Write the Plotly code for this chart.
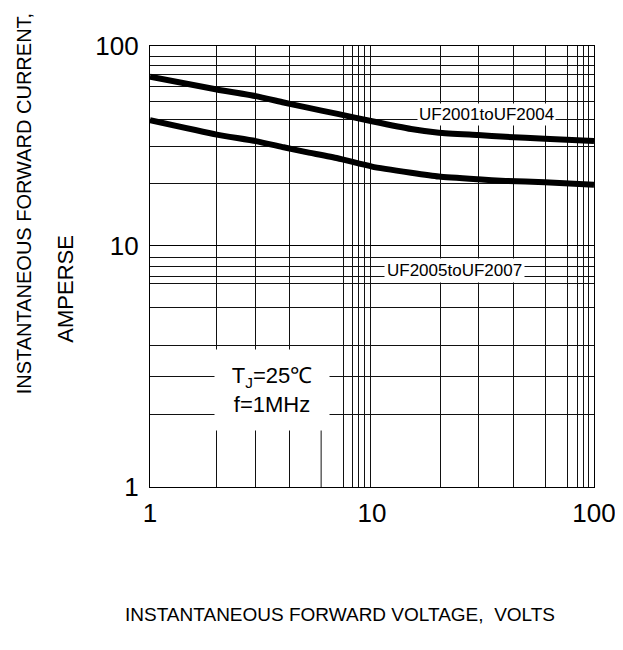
import plotly.graph_objects as go

# ---- data ----
VOLTAGE = [1, 2, 3, 4, 5, 7, 10, 15, 20, 30, 40, 60, 100]
CURRENT_UF2001_2004 = [70.2, 60.6, 56.1, 52.1, 49.4, 45.7, 42.0, 38.4, 36.8, 35.8, 35.1, 34.3, 33.4]
CURRENT_UF2005_2007 = [42.5, 36.0, 33.4, 31.1, 29.5, 27.4, 24.9, 23.2, 22.2, 21.5, 21.1, 20.8, 20.2]

X_TICKS = [1, 10, 100]
X_TICK_LABELS = ["1", "10", "100"]
Y_TICKS_UPPER = [100]
Y_TICKS_LOWER = [1, 10]

# hand-drawn grid of the original datasheet chart
X_GRID = [2.0, 3.0, 4.24, 7.44, 8.14, 8.73, 9.27, 9.8,
          20.3, 30.3, 43.2, 60.3, 76.0, 84.1, 89.7, 94.9]
Y_GRID_UPPER = [20.4, 31.5, 42.8, 52.6, 63.0, 72.1, 80.3, 89.1]
Y_GRID_LOWER = [1.99, 2.88, 3.85, 5.57, 6.94, 7.47, 8.18, 8.95]

FONT = "Arial, Liberation Sans, sans-serif"
SPLIT = 0.5472
FRAME_W = 1.2

fig = go.Figure()

for ys in (CURRENT_UF2001_2004, CURRENT_UF2005_2007):
    fig.add_trace(go.Scatter(
        x=VOLTAGE, y=ys, mode="lines", xaxis="x", yaxis="y",
        line=dict(color="black", width=6, shape="spline", smoothing=0.5),
        cliponaxis=False, showlegend=False, hoverinfo="skip"))

# empty trace so the lower decade panel exists
fig.add_trace(go.Scatter(x=[], y=[], xaxis="x2", yaxis="y2",
                         showlegend=False, hoverinfo="skip"))

grid_minor = dict(showgrid=True, gridcolor="#111", gridwidth=1, ticks="")

xcommon = dict(type="log", range=[0, 2], showline=True,
               linecolor="black", linewidth=FRAME_W, showgrid=False, zeroline=False,
               ticks="", tickvals=X_TICKS, ticktext=X_TICK_LABELS,
               minor=dict(tickvals=X_GRID, **grid_minor))

ycommon = dict(type="log", showline=True, mirror=True, linecolor="black",
               linewidth=FRAME_W, showgrid=False, zeroline=False, ticks="",
               tickfont=dict(size=26, family=FONT, color="black"),
               ticklabelstandoff=5)

fig.update_layout(
    width=623, height=650,
    margin=dict(l=142, r=37, t=38, b=171),
    paper_bgcolor="white", plot_bgcolor="white",
    font=dict(family=FONT, color="black"),
    xaxis=dict(anchor="y", side="top", mirror=False, showticklabels=False, **xcommon),
    xaxis2=dict(anchor="y2", matches="x", mirror=True, showticklabels=True,
                tickfont=dict(size=26, family=FONT, color="black"),
                ticklabelstandoff=3, **xcommon),
    yaxis=dict(range=[1, 2], domain=[SPLIT, 1], anchor="x",
               tickvals=Y_TICKS_UPPER, ticktext=[str(v) for v in Y_TICKS_UPPER],
               minor=dict(tickvals=Y_GRID_UPPER, **grid_minor), **ycommon),
    yaxis2=dict(range=[0, 1], domain=[0, SPLIT], anchor="x2",
                tickvals=Y_TICKS_LOWER, ticktext=[str(v) for v in Y_TICKS_LOWER],
                minor=dict(tickvals=Y_GRID_LOWER, **grid_minor), **ycommon),
)

# partial grid line at the bottom of the lower decade
fig.add_shape(type="line", xref="x2", yref="y2", x0=5.9, x1=5.9, y0=1, y1=1.77,
              line=dict(color="#111", width=1))

fig.add_annotation(x=1.516, y=1.6555, xref="x", yref="y",
                   text="UF2001toUF2004", showarrow=False,
                   xanchor="center", yanchor="middle",
                   font=dict(size=17, family=FONT, color="black"),
                   bgcolor="white", borderpad=1)
fig.add_annotation(x=1.372, y=0.899, xref="x2", yref="y2",
                   text="UF2005toUF2007", showarrow=False,
                   xanchor="center", yanchor="middle",
                   font=dict(size=17, family=FONT, color="black"),
                   bgcolor="white", borderpad=2)
fig.add_annotation(x=0.55, y=0.402, xref="x2", yref="y2",
                   text="T<sub>J</sub>=25℃<br>f=1MHz", showarrow=False,
                   xanchor="center", yanchor="middle",
                   font=dict(size=22, family=FONT, color="black"),
                   bgcolor="white", width=112, height=78, align="center")

# axis titles
fig.add_annotation(x=-0.283, y=0.644, xref="paper", yref="paper",
                   xanchor="center", yanchor="middle",
                   text="INSTANTANEOUS FORWARD CURRENT,", textangle=-90,
                   showarrow=False, font=dict(size=20, family=FONT, color="black"))
fig.add_annotation(x=-0.19, y=0.449, xref="paper", yref="paper",
                   xanchor="center", yanchor="middle",
                   text="AMPERSE", textangle=-90,
                   showarrow=False, font=dict(size=22, family=FONT, color="black"))
fig.add_annotation(x=0.428, y=-0.290, xref="paper", yref="paper",
                   xanchor="center", yanchor="middle",
                   text="INSTANTANEOUS FORWARD VOLTAGE,  VOLTS",
                   showarrow=False, font=dict(size=19, family=FONT, color="black"))

fig.write_html("out.html")
